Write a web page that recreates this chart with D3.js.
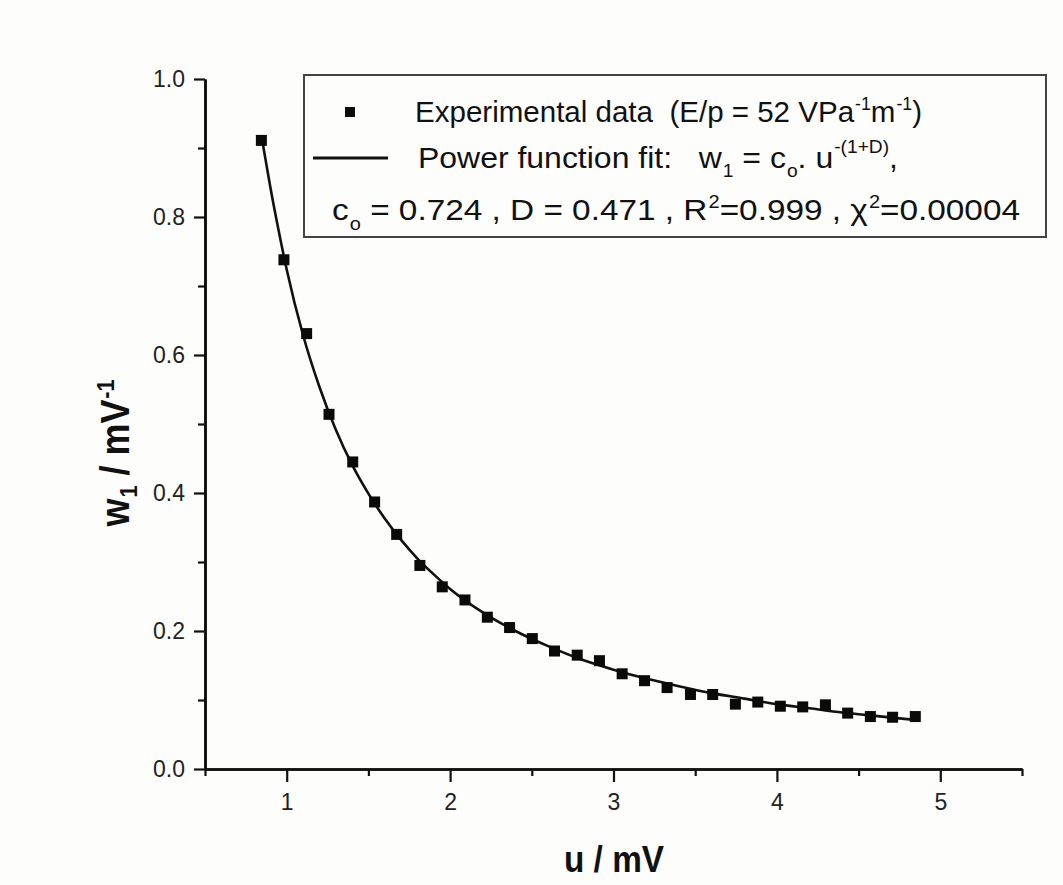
<!DOCTYPE html>
<html lang="en">
<head>
<meta charset="UTF-8">
<title>w1 vs u power fit</title>
<script src="https://d3js.org/d3.v7.min.js"></script>
<style>
	body { margin: 0; background: #fdfdfb; }
	svg { display: block; font-family: Arial, "Liberation Sans", sans-serif; }
</style>
</head>
<body>
<script>
	// experimental points
	const uValues = [0.845, 0.983, 1.122, 1.259, 1.404, 1.538, 1.673, 1.815, 1.952, 2.091,
		2.228, 2.364, 2.503, 2.639, 2.778, 2.914, 3.053, 3.190, 3.328, 3.471,
		3.607, 3.746, 3.883, 4.021, 4.158, 4.297, 4.433, 4.572, 4.708, 4.847];
	const wValues = [0.911, 0.738, 0.631, 0.514, 0.445, 0.387, 0.340, 0.295, 0.264, 0.245,
		0.220, 0.205, 0.189, 0.171, 0.165, 0.157, 0.138, 0.128, 0.118, 0.108,
		0.108, 0.094, 0.097, 0.091, 0.090, 0.093, 0.081, 0.076, 0.075, 0.076];

	// fitted curve
	const fitU = [0.845, 0.87, 0.9, 0.95, 1.0, 1.1, 1.2, 1.3, 1.4, 1.5, 1.6, 1.7, 1.8, 1.9, 2.0,
		2.2, 2.4, 2.6, 2.8, 3.0, 3.2, 3.4, 3.6, 3.8, 4.0, 4.2, 4.4, 4.6, 4.85];
	const fitW = [0.918, 0.884, 0.843, 0.781, 0.724, 0.629, 0.554, 0.492, 0.441, 0.399, 0.363, 0.332, 0.305, 0.282, 0.261,
		0.227, 0.200, 0.178, 0.159, 0.144, 0.131, 0.120, 0.110, 0.102, 0.094, 0.088, 0.082, 0.077, 0.071];

	const xMajor = [1, 2, 3, 4, 5];
	const xMinor = [0.5, 1.5, 2.5, 3.5, 4.5, 5.5];
	const yMajor = [0, 0.2, 0.4, 0.6, 0.8, 1.0];
	const yMinor = [0.1, 0.3, 0.5, 0.7, 0.9];

	var width = 1063, height = 885;
	var plot = { left: 205, right: 1022, top: 79, bottom: 769 };

	var svg = d3.select("body").append("svg")
		.attr("width", width)
		.attr("height", height);

	var x = d3.scaleLinear().domain([0.5, 5.5]).range([plot.left, plot.right]);
	var y = d3.scaleLinear().domain([0, 1]).range([plot.bottom, plot.top]);

	// axes: major ticks with labels, minor ticks without
	var xAxis = d3.axisBottom(x).tickValues(xMajor).tickSize(13).tickSizeOuter(0)
		.tickPadding(12).tickFormat(d3.format("d"));
	var xAxisMinor = d3.axisBottom(x).tickValues(xMinor).tickSize(7).tickSizeOuter(0).tickFormat("");
	var yAxis = d3.axisLeft(y).tickValues(yMajor).tickSize(11).tickSizeOuter(0)
		.tickPadding(9).tickFormat(d3.format(".1f"));
	var yAxisMinor = d3.axisLeft(y).tickValues(yMinor).tickSize(7).tickSizeOuter(0).tickFormat("");

	svg.append("g").attr("class", "axis")
		.attr("transform", "translate(0," + plot.bottom + ")").call(xAxisMinor);
	svg.append("g").attr("class", "axis")
		.attr("transform", "translate(" + plot.left + ",0)").call(yAxisMinor);
	svg.append("g").attr("class", "axis")
		.attr("transform", "translate(0," + plot.bottom + ")").call(xAxis);
	svg.append("g").attr("class", "axis")
		.attr("transform", "translate(" + plot.left + ",0)").call(yAxis);

	svg.selectAll("g.axis")
		.attr("font-size", 23)
		.attr("font-family", "Arial, 'Liberation Sans', sans-serif");
	svg.selectAll("g.axis path").attr("stroke", "#111").attr("stroke-width", 2.6);
	svg.selectAll("g.axis line").attr("stroke", "#111").attr("stroke-width", 2.2);
	svg.selectAll("g.axis text").attr("fill", "#222");

	// axis titles
	svg.append("text")
		.attr("x", 614).attr("y", 872)
		.attr("text-anchor", "middle")
		.attr("font-size", 36).attr("font-weight", "bold").attr("fill", "#111")
		.attr("textLength", 100).attr("lengthAdjust", "spacingAndGlyphs")
		.text("u / mV");

	// text made of pieces, each at its own baseline offset
	function richText (t, pieces, small) {
		var cur = 0;
		pieces.forEach(p => {
			var off = p[1] || 0;
			var ts = t.append("tspan").attr("dy", off - cur).text(p[0]);
			if (off !== 0) ts.attr("font-size", small).attr("dx", 1);
			cur = off;
		});
		return t;
	}

	var yTitle = svg.append("text")
		.attr("transform", "translate(129,453) rotate(-90)")
		.attr("text-anchor", "middle")
		.attr("font-size", 40).attr("font-weight", "bold").attr("fill", "#111")
		.attr("textLength", 147).attr("lengthAdjust", "spacingAndGlyphs");
	richText(yTitle, [["w"], ["1", 8], [" / mV"], ["-1", -15]], 24);

	// fit line
	var fitData = fitU.map((u, i) => [u, fitW[i]]);
	var line = d3.line()
		.x(d => x(d[0]))
		.y(d => y(d[1]))
		.curve(d3.curveMonotoneX);

	svg.append("path")
		.datum(fitData)
		.attr("fill", "none")
		.attr("stroke", "#111")
		.attr("stroke-width", 2.6)
		.attr("d", line);

	// experimental points as squares
	var size = 11;
	svg.append("g")
		.selectAll("rect")
		.data(uValues.map((u, i) => [u, wValues[i]]))
		.join("rect")
		.attr("x", d => x(d[0]) - size / 2)
		.attr("y", d => y(d[1]) - size / 2)
		.attr("width", size)
		.attr("height", size)
		.attr("fill", "#0a0a0a");

	// legend box
	var legend = svg.append("g").attr("font-size", 30).attr("fill", "#111");
	legend.append("rect")
		.attr("x", 304).attr("y", 75)
		.attr("width", 742).attr("height", 162)
		.attr("fill", "#fdfdfb")
		.attr("stroke", "#444")
		.attr("stroke-width", 2);

	legend.append("rect")
		.attr("x", 345).attr("y", 107)
		.attr("width", 10).attr("height", 10)
		.attr("fill", "#0a0a0a");
	legend.append("line")
		.attr("x1", 313).attr("x2", 388)
		.attr("y1", 158).attr("y2", 158)
		.attr("stroke", "#111").attr("stroke-width", 3);

	var row1 = legend.append("text").attr("x", 415).attr("y", 122)
		.style("white-space", "pre")
		.attr("textLength", 507).attr("lengthAdjust", "spacingAndGlyphs");
	richText(row1, [["Experimental data  (E/p = 52 VPa"], ["-1", -12], ["m"], ["-1", -12], [")"]], 18);

	var row2 = legend.append("text").attr("x", 418).attr("y", 168)
		.style("white-space", "pre")
		.attr("textLength", 480).attr("lengthAdjust", "spacingAndGlyphs");
	richText(row2, [["Power function fit:   w"], ["1", 9], [" = c"], ["o", 9], [". u"], ["-(1+D)", -15], [","]], 18);

	var row3 = legend.append("text").attr("x", 332).attr("y", 220)
		.style("white-space", "pre")
		.attr("textLength", 688).attr("lengthAdjust", "spacingAndGlyphs");
	richText(row3, [["c"], ["o", 10], [" = 0.724 , D = 0.471 , R"], ["2", -12], ["=0.999 , χ"], ["2", -12], ["=0.00004"]], 18);
</script>
</body>
</html>
